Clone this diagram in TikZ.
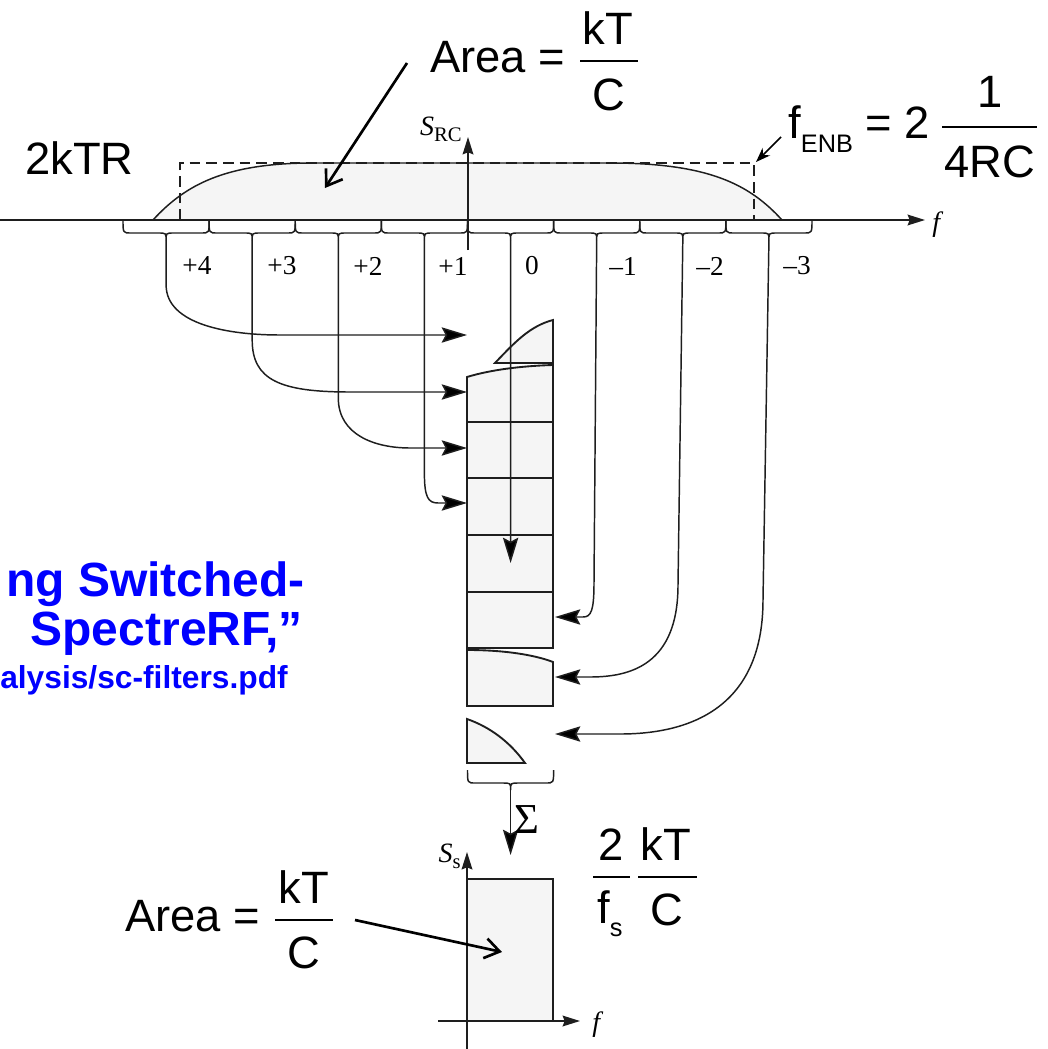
\documentclass[tikz,border=0pt]{standalone}
\usepackage{fontspec}
\setmainfont{Liberation Sans}
\newfontfamily\tms{Liberation Serif}
\usetikzlibrary{arrows.meta}
\definecolor{ln}{RGB}{30,30,30}
\definecolor{fl}{RGB}{245,245,245}
\definecolor{bl}{RGB}{0,0,255}
\begin{document}
\begin{tikzpicture}[x=0.75pt,y=-0.75pt,
  dline/.style={draw=ln, line width=1.4pt},
  thinl/.style={draw=ln, line width=1.1pt},
  sarrow/.style={thinl, -{Stealth[length=19pt,width=11.5pt,inset=3pt,fill=black]}},
  axarrow/.style={dline, -{Stealth[length=13pt,width=8pt,inset=1.5pt]}},
  note/.style={line width=2pt, -{Straight Barb[length=11pt,width=15pt]}},
  big/.style={font=\fontsize{34}{34}\selectfont, inner sep=0pt},
  lab/.style={font=\tms\fontsize{20.5}{20.5}\selectfont, inner sep=0pt},
  blt/.style={font=\bfseries\fontsize{36}{36}\selectfont, text=bl, inner sep=0pt},
  fracbar/.style={line width=1.5pt},
  piece/.style={dline, fill=fl}
]
\fill[white] (0,0) rectangle (1047,1049);
\useasboundingbox (0,0) rectangle (1047,1049);

% spectrum
\fill[fl] (153,220) .. controls (185,185) and (225,163) .. (313,163) -- (610,163)
  .. controls (710,163) and (750,185) .. (782,220) -- cycle;
\draw[thinl] (153,220) .. controls (185,185) and (225,163) .. (313,163) -- (610,163)
  .. controls (710,163) and (750,185) .. (782,220);
\draw[thinl, dash pattern=on 8pt off 4.5pt] (180,220) -- (180,163) -- (754,163) -- (754,220);

% axes top
\coordinate (hx0) at (0,220);
\coordinate (hx1) at (925,220);
\draw[axarrow] (hx0) -- (hx1);
\coordinate (vy0) at (468,250);
\coordinate (vy1) at (468,137);
\draw[axarrow] (vy0) -- (vy1);
\node[font=\tms\itshape\fontsize{21}{21}\selectfont, inner sep=0pt, anchor=base west] (flab) at (932,231) {f};
\node[font=\tms, inner sep=0pt, anchor=base east] (srclab) at (462,135)
  {\fontsize{21}{21}\selectfont\itshape S\upshape\fontsize{15.5}{15.5}\selectfont\raisebox{-5pt}{RC}};

% braces
\foreach \i in {0,...,7}{
  \pgfmathsetmacro\a{123+86.125*\i}
  \pgfmathsetmacro\b{\a+86.125}
  \pgfmathsetmacro\c{\a+43.06}
  \draw[thinl] (\a,220) .. controls (\a,233) and (\a,233) .. ({\a+8},233) -- ({\c-8},233)
    .. controls (\c,233) and (\c,233) .. (\c,240)
    .. controls (\c,233) and (\c,233) .. ({\c+8},233) -- ({\b-8},233)
    .. controls (\b,233) and (\b,233) .. (\b,220);
  \coordinate (c\i) at (\c,240);
}

% labels
\node[lab] (l4) at (197,266) {+4};
\node[lab] (l3) at (282,266) {+3};
\node[lab] (l2) at (368,266) {+2};
\node[lab] (l1) at (453,266) {+1};
\node[lab] (l0) at (532,266) {0};
\node[lab] (m1) at (623,266) {–1};
\node[lab] (m2) at (710,266) {–2};
\node[lab] (m3) at (797,266) {–3};

% stack
\draw[piece] (495,363) .. controls (515,342) and (530,326) .. (553,320) -- (553,363) -- cycle;
\draw[piece] (467,377) .. controls (490,370) and (520,366) .. (553,365) -- (553,422) -- (467,422) -- cycle;
\draw[piece] (467,422) rectangle (553,478);
\draw[piece] (467,478) rectangle (553,535);
\draw[piece] (467,535) rectangle (553,592);
\draw[piece] (467,592) rectangle (553,648);
\draw[piece] (467,650) .. controls (505,650) and (535,655) .. (553,662) -- (553,706) -- (467,706) -- cycle;
\draw[piece] (467,719) .. controls (490,727) and (510,742) .. (525,763) -- (467,763) -- cycle;

% targets
\coordinate (t4) at (467,335);
\coordinate (t3) at (467,392);
\coordinate (t2) at (467,448);
\coordinate (t1) at (467,503);
\coordinate (t0) at (510.6,563);
\coordinate (tm1) at (555,617);
\coordinate (tm2) at (555,677);
\coordinate (tm3) at (555,734);

% arrows
\draw[sarrow] (c0) -- (166.1,285) .. controls (166.1,325) and (230,335) .. (280,335) -- (t4);
\draw[sarrow] (c1) -- (252.2,340) .. controls (252.2,380) and (280,392) .. (350,392) -- (t3);
\draw[sarrow] (c2) -- (338.3,398) .. controls (338.3,435) and (375,448) .. (410,448) -- (t2);
\draw[sarrow] (c3) -- (424.4,473) .. controls (424.4,497) and (428,503) .. (438,503) -- (t1);
\draw[sarrow] (c4) -- (t0);
\draw[sarrow] (c5) -- (594,583) .. controls (594,611) and (591,617) .. (583,617) -- (tm1);
\draw[sarrow] (c6) -- (678,585) .. controls (678,665) and (630,677) .. (590,677) -- (tm2);
\draw[sarrow] (c7) -- (763,600) .. controls (763,700) and (700,734) .. (620,734) -- (tm3);

% bottom brace
\coordinate (cs) at (510.6,790);
\draw[thinl] (467.5,770) .. controls (467.5,783) and (467.5,783) .. (475.5,783) -- (502.6,783)
  .. controls (510.6,783) and (510.6,783) .. (cs)
  .. controls (510.6,783) and (510.6,783) .. (518.6,783) -- (545.6,783)
  .. controls (553.6,783) and (553.6,783) .. (553.6,770);
\coordinate (ss) at (510.6,855);
\draw[sarrow] (cs) -- (ss);
\node[font=\tms\fontsize{32}{32}\selectfont, inner sep=0pt, anchor=base west] (sig) at (514,833) {Σ};

% bottom graph
\fill[fl] (467,879) rectangle (553,1021);
\draw[dline] (467,1021) -- (467,879) -- (553,879) -- (553,1021);
\coordinate (bx0) at (438,1021);
\coordinate (bx1) at (580,1021);
\draw[axarrow] (bx0) -- (bx1);
\coordinate (by0) at (467,1049);
\coordinate (by1) at (467,852);
\draw[axarrow] (by0) -- (by1);
\node[font=\tms\itshape\fontsize{21}{21}\selectfont, inner sep=0pt, anchor=base west] (flab2) at (592,1031) {f};
\node[font=\tms, inner sep=0pt, anchor=base east] (sslab) at (461,862)
  {\fontsize{21}{21}\selectfont\itshape S\upshape\fontsize{15.5}{15.5}\selectfont\raisebox{-5pt}{s}};

% annotations top
\node[big, anchor=base west] (areaT) at (430,73) {Area =};
\node[big, anchor=base] (kT1) at (608,45) {kT};
\node[big, anchor=base] (C1) at (609,110) {C};
\draw[fracbar] (580,61) -- (638,61);
\coordinate (aT0) at (407,63);
\coordinate (aT1) at (325,188);
\draw[note] (aT0) -- (aT1);

\node[big, anchor=base west] (tkr) at (25,174) {2kTR};

\node[big, anchor=base west] (fenb) at (788,138) {f\raisebox{-10.5pt}{\fontsize{19}{19}\selectfont ENB} = 2};
\node[big, anchor=base] (one) at (990,108) {1};
\node[big, anchor=base] (frc) at (990,177) {4RC};
\draw[fracbar] (942,127) -- (1037,127);
\coordinate (fe0) at (781,137);
\coordinate (fe1) at (756,162);
\draw[thinl, draw=black, -{Stealth[length=11pt,width=8pt]}] (fe0) -- (fe1);

% annotations bottom
\node[big, anchor=base] (two) at (611,860) {2};
\draw[fracbar] (593,877) -- (630,877);
\node[big, anchor=base west] (fs) at (597,923) {f\raisebox{-9.75pt}{\fontsize{19}{19}\selectfont s}};
\node[big, anchor=base] (kT3) at (666,860) {kT};
\draw[fracbar] (638,877) -- (697,877);
\node[big, anchor=base] (C3) at (667,925) {C};

\node[big, anchor=base west] (areaB) at (125,931) {Area =};
\node[big, anchor=base] (kT2) at (304,903) {kT};
\draw[fracbar] (275,920) -- (333,920);
\node[big, anchor=base] (C2) at (304,968) {C};
\coordinate (aB0) at (355,920);
\coordinate (aB1) at (502,952);
\draw[note] (aB0) -- (aB1);

% blue text
\node[blt, anchor=base east] (b1) at (305,596) {ng Switched-};
\node[blt, anchor=base east] (b2) at (303,645) {SpectreRF,”};
\node[blt, anchor=base east, font=\bfseries\fontsize{23.8}{23.8}\selectfont] (b3) at (288,688) {alysis/sc-filters.pdf};
\end{tikzpicture}
\end{document}
